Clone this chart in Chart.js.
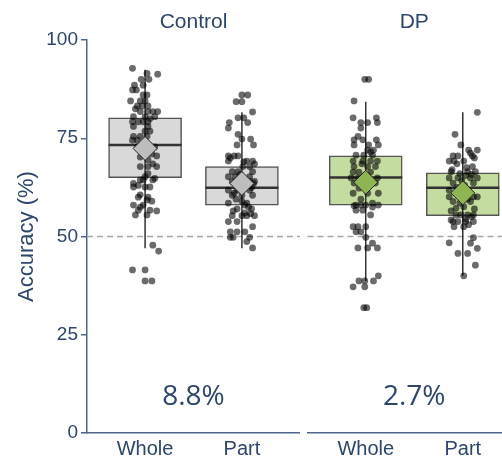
<!DOCTYPE html>
<html>
<head>
<meta charset="utf-8">
<script src="https://cdn.jsdelivr.net/npm/chart.js@4.4.1/dist/chart.umd.min.js"></script>
<style>
  html, body { margin: 0; padding: 0; background: #fff; }
  #wrap { position: relative; width: 502px; height: 459px; overflow: hidden; }
  #left { position: absolute; left: 0; top: 0; width: 300px; height: 459px; }
  #right { position: absolute; left: 300px; top: 0; width: 221px; height: 459px; }
</style>
</head>
<body>
<div id="wrap">
  <canvas id="left" width="300" height="459"></canvas>
  <canvas id="right" width="221" height="459"></canvas>
</div>
<script>
// categorias y rotulos
const categories = ['Whole', 'Part'];
const yTicks = [0, 25, 50, 75, 100];
const chanceLevel = 50;
const diffLabelY = 9.2;

// Control: resumen de cajas (Whole, Part)
const controlQ1 = [65.0, 58.0];
const controlMedian = [73.3, 62.4];
const controlQ3 = [80.2, 67.8];
const controlLow = [47.0, 47.0];
const controlHigh = [92.4, 81.6];
const controlMean = [72.4, 63.5];

// DP: resumen de cajas (Whole, Part)
const dpQ1 = [58.0, 55.3];
const dpMedian = [65.0, 62.4];
const dpQ3 = [70.5, 66.2];
const dpLow = [38.7, 40.0];
const dpHigh = [84.3, 81.6];
const dpMean = [63.8, 61.1];

// puntos individuales (accuracy) y su desplazamiento horizontal (jitter)
const controlWholeAcc = [92.8, 91.5, 91.3, 90.0, 90.0, 88.5, 88.5, 87.3, 87.3, 86.0, 86.0, 84.5, 84.5, 84.5, 83.2, 83.2, 83.2, 82.5, 81.8, 81.8, 81.8, 81.8, 80.5, 80.5, 80.5, 80.0, 79.2, 79.2, 79.2, 79.2, 78.0, 78.0, 76.8, 76.8, 75.5, 75.5, 75.5, 74.5, 74.5, 72.8, 72.8, 72.8, 71.0, 71.0, 70.5, 70.2, 69.5, 68.5, 67.8, 67.8, 67.8, 66.0, 65.2, 64.8, 64.4, 64.4, 64.4, 63.5, 63.0, 62.6, 62.6, 62.6, 60.6, 60.0, 60.0, 59.3, 59.0, 58.0, 58.0, 57.5, 56.7, 56.7, 56.5, 55.5, 55.5, 47.8, 46.3, 41.5, 41.5, 38.7, 38.7];
const controlWholeJit = [-0.13, 0.02, 0.13, -0.04, 0.04, -0.11, -0.02, -0.13, -0.09, -0.02, 0.02, -0.15, -0.05, 0.00, -0.08, -0.03, 0.03, -0.10, -0.05, 0.03, 0.08, 0.13, -0.12, 0.00, 0.10, 0.05, -0.13, -0.07, -0.02, 0.03, 0.03, -0.12, 0.05, 0.00, -0.12, -0.05, 0.02, -0.13, -0.08, -0.08, 0.10, -0.02, -0.02, 0.07, 0.12, -0.05, 0.03, 0.08, -0.05, 0.12, 0.03, 0.03, 0.00, 0.10, -0.02, 0.08, -0.05, -0.12, -0.07, -0.12, 0.00, 0.05, -0.05, 0.03, -0.07, 0.02, 0.07, -0.12, -0.02, -0.05, -0.07, 0.05, 0.12, -0.10, 0.02, 0.08, 0.14, -0.13, 0.00, 0.00, 0.07];

const controlPartAcc = [86.0, 86.0, 84.3, 84.3, 81.7, 80.2, 80.2, 79.0, 79.0, 77.6, 76.0, 74.8, 74.8, 73.3, 73.3, 70.5, 70.5, 70.5, 70.0, 69.2, 69.2, 69.2, 69.0, 68.5, 67.8, 67.8, 66.5, 66.5, 66.5, 65.8, 65.2, 65.2, 65.2, 64.6, 64.0, 64.0, 64.0, 63.5, 63.0, 62.5, 61.8, 61.8, 61.8, 61.0, 60.5, 60.5, 60.5, 59.5, 59.0, 58.5, 58.5, 58.0, 57.5, 57.0, 57.0, 56.5, 56.0, 55.8, 55.3, 55.3, 55.3, 55.3, 53.8, 53.8, 52.5, 51.2, 51.2, 51.2, 49.8, 49.8, 49.8, 48.7, 47.1];
const controlPartJit = [0.00, 0.06, -0.06, 0.00, 0.11, -0.04, 0.02, -0.13, 0.06, -0.14, -0.04, 0.00, 0.09, -0.05, 0.12, -0.14, -0.08, -0.04, -0.12, 0.05, 0.11, -0.14, 0.02, 0.13, 0.01, 0.08, -0.10, -0.04, 0.11, -0.02, -0.14, -0.07, 0.08, 0.03, 0.08, 0.13, -0.10, 0.12, -0.02, 0.10, -0.14, -0.05, 0.08, -0.08, -0.10, 0.11, 0.00, -0.06, 0.00, -0.14, 0.05, 0.03, 0.07, -0.05, 0.10, -0.09, 0.03, 0.09, -0.10, 0.00, 0.05, 0.13, -0.14, -0.05, 0.11, -0.12, -0.05, 0.03, -0.12, -0.09, 0.08, 0.05, 0.11];

const dpWholeAcc = [90.0, 90.0, 84.5, 80.2, 80.2, 79.0, 79.0, 79.0, 77.6, 75.5, 74.6, 74.6, 74.6, 73.3, 73.3, 73.3, 72.0, 72.0, 71.5, 70.7, 70.7, 70.7, 69.2, 69.2, 69.2, 69.2, 68.5, 67.8, 67.8, 67.8, 66.4, 66.4, 66.4, 65.5, 64.9, 64.9, 64.9, 63.6, 63.6, 62.3, 61.0, 61.0, 61.0, 59.5, 58.5, 58.0, 58.0, 58.0, 58.0, 57.8, 57.5, 56.7, 56.7, 55.5, 52.5, 52.5, 52.5, 51.2, 51.2, 49.8, 48.3, 47.1, 47.1, 47.1, 40.0, 38.7, 38.7, 38.7, 37.2, 37.2, 31.9, 31.9];
const dpWholeJit = [-0.01, 0.03, -0.12, -0.13, 0.11, -0.05, 0.02, 0.12, -0.05, -0.08, -0.12, -0.03, 0.11, -0.12, 0.03, 0.13, 0.08, 0.02, 0.05, -0.10, -0.02, 0.07, -0.13, -0.03, 0.05, 0.12, -0.04, -0.12, 0.02, 0.10, -0.13, -0.07, 0.05, 0.02, -0.15, -0.08, 0.12, -0.12, 0.10, -0.07, -0.13, 0.02, 0.13, -0.05, 0.07, -0.10, -0.05, 0.00, 0.13, -0.12, 0.07, -0.10, -0.03, 0.05, -0.13, -0.08, 0.00, -0.10, -0.05, 0.00, 0.07, 0.12, -0.08, 0.02, 0.13, -0.07, -0.01, 0.08, -0.13, -0.01, -0.02, 0.01];

const dpPartAcc = [81.6, 76.0, 73.3, 72.0, 72.0, 71.2, 70.5, 70.5, 70.5, 70.0, 69.2, 69.2, 69.2, 68.5, 67.8, 67.5, 67.0, 66.5, 66.5, 66.5, 66.0, 65.8, 65.5, 64.9, 64.9, 64.9, 64.9, 64.2, 63.6, 63.6, 63.0, 62.5, 61.8, 61.8, 61.0, 60.1, 60.1, 60.1, 59.5, 58.9, 58.9, 58.5, 57.6, 57.2, 57.0, 56.5, 55.5, 55.5, 55.5, 55.5, 55.0, 54.5, 54.2, 53.8, 53.8, 53.8, 53.8, 53.0, 52.5, 52.5, 49.7, 48.4, 48.3, 47.0, 45.7, 45.7, 42.7, 40.0];
const dpPartJit = [0.15, -0.08, -0.02, 0.06, 0.15, 0.08, -0.10, -0.05, 0.10, 0.12, -0.14, -0.09, 0.01, -0.06, 0.10, 0.04, -0.11, -0.12, 0.05, 0.13, -0.03, 0.09, 0.03, -0.14, -0.05, 0.08, 0.15, -0.01, -0.10, 0.11, 0.02, -0.06, -0.14, -0.05, 0.07, -0.14, 0.11, 0.15, 0.05, -0.10, 0.08, -0.03, 0.01, -0.07, 0.12, -0.12, -0.07, -0.02, 0.05, 0.11, 0.09, 0.03, -0.12, -0.10, -0.05, 0.03, 0.11, 0.06, -0.09, 0.01, 0.11, -0.14, 0.08, 0.15, -0.05, 0.05, 0.13, 0.01];

const NAVY = '#2d4669';
const AXIS = '#4d6688';
const SANS = '"Liberation Sans", Arial, sans-serif';

function makePanel(id, cfg) {
  const { title, diff, q1, med, q3, lo, hi, mean, acc, jit, boxFill, meanFill, showY } = cfg;

  const boxes = categories.map((c, i) => ({ x: i + 1, y: [q1[i], q3[i]] }));
  const whiskers = [];
  categories.forEach((c, i) => {
    if (i > 0) whiskers.push({ x: i + 0.5, y: null });
    whiskers.push({ x: i + 1, y: lo[i] }, { x: i + 1, y: hi[i] });
  });
  const dots = [];
  acc.forEach((vals, i) => vals.forEach((v, k) => dots.push({ x: i + 1 + jit[i][k], y: v })));
  const means = mean.map((m, i) => ({ x: i + 1, y: m }));

  // linea de azar, medianas y textos
  const extras = {
    id: 'extras',
    beforeDatasetsDraw(chart) {
      const { ctx, chartArea: a, scales: { y } } = chart;
      const py = y.getPixelForValue(chanceLevel);
      ctx.save();
      ctx.strokeStyle = '#a8a8a8';
      ctx.lineWidth = 1.5;
      ctx.setLineDash([6, 4]);
      ctx.beginPath();
      ctx.moveTo(a.left, py);
      ctx.lineTo(a.right, py);
      ctx.stroke();
      ctx.restore();
    },
    afterDatasetDraw(chart, args) {
      if (args.index !== 0) return;
      const { ctx, scales: { y } } = chart;
      ctx.save();
      ctx.strokeStyle = '#333333';
      ctx.lineWidth = 2.5;
      args.meta.data.forEach((bar, i) => {
        const py = y.getPixelForValue(med[i]);
        ctx.beginPath();
        ctx.moveTo(bar.x - bar.width / 2, py);
        ctx.lineTo(bar.x + bar.width / 2, py);
        ctx.stroke();
      });
      ctx.restore();
    },
    afterDraw(chart) {
      const { ctx, chartArea: a, scales: { y } } = chart;
      const cx = (a.left + a.right) / 2;
      ctx.save();
      ctx.fillStyle = NAVY;
      ctx.textAlign = 'center';
      ctx.textBaseline = 'middle';
      ctx.font = '21px ' + SANS;
      ctx.fillText(title, cx, 22);
      ctx.font = '28px "Open Sans", sans-serif';
      ctx.fillText(diff, cx, y.getPixelForValue(diffLabelY));
      ctx.restore();
    }
  };

  return new Chart(document.getElementById(id), {
    type: 'scatter',
    data: {
      datasets: [
        { type: 'bar', data: boxes, backgroundColor: boxFill, borderColor: '#555555', borderWidth: 1.5,
          borderSkipped: false, barThickness: 73, order: 5 },
        { type: 'line', data: whiskers, showLine: true, borderColor: '#333333', borderWidth: 1.5,
          pointRadius: 0, spanGaps: false, order: 4 },
        { data: dots, pointRadius: 3.4, backgroundColor: 'rgba(0,0,0,0.58)', borderWidth: 0, order: 3 },
        { data: means, pointStyle: 'rectRot', pointRadius: 12, backgroundColor: meanFill,
          borderColor: '#222222', borderWidth: 1, order: 1 }
      ]
    },
    options: {
      responsive: false,
      animation: false,
      events: [],
      layout: { autoPadding: false, padding: { top: 40, left: showY ? 0 : 7.5, right: 0, bottom: 0 } },
      plugins: { legend: { display: false }, tooltip: { enabled: false }, title: { display: false } },
      scales: {
        x: {
          type: 'linear', min: 0.4, max: 2.6, offset: false,
          afterBuildTicks: s => { s.ticks = categories.map((c, i) => ({ value: i + 1 })); },
          ticks: { callback: v => categories[v - 1], color: NAVY, font: { family: SANS, size: 20 }, padding: 4, maxRotation: 0 },
          grid: { display: false, drawTicks: false, tickLength: 0 },
          border: { color: AXIS, width: 1.5 },
          afterFit: s => { s.height = 26; }
        },
        y: {
          display: showY, min: 0, max: 100,
          afterBuildTicks: s => { s.ticks = yTicks.map(v => ({ value: v })); },
          ticks: { color: NAVY, font: { family: SANS, size: 19 }, padding: 3 },
          grid: { drawOnChartArea: false, tickLength: 6, color: AXIS, lineWidth: 1.5 },
          border: { color: AXIS, width: 1.5 },
          title: { display: true, text: 'Accuracy (%)', color: NAVY, font: { family: SANS, size: 22 }, padding: { top: 14, bottom: 0 } },
          afterFit: s => { if (showY) s.width = 87; }
        }
      }
    },
    plugins: [extras]
  });
}

makePanel('left', {
  title: 'Control', diff: '8.8%',
  q1: controlQ1, med: controlMedian, q3: controlQ3, lo: controlLow, hi: controlHigh, mean: controlMean,
  acc: [controlWholeAcc, controlPartAcc], jit: [controlWholeJit, controlPartJit],
  boxFill: '#d9d9d9', meanFill: '#bdbdbd', showY: true
});

makePanel('right', {
  title: 'DP', diff: '2.7%',
  q1: dpQ1, med: dpMedian, q3: dpQ3, lo: dpLow, hi: dpHigh, mean: dpMean,
  acc: [dpWholeAcc, dpPartAcc], jit: [dpWholeJit, dpPartJit],
  boxFill: '#c4dca0', meanFill: '#8fb552', showY: false
});
</script>
</body>
</html>
